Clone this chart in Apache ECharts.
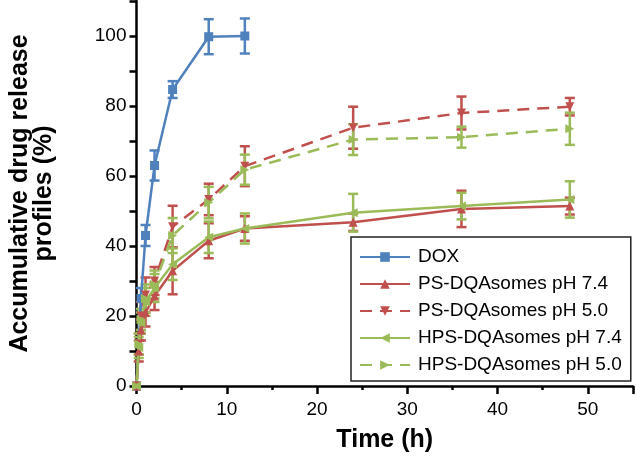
<!DOCTYPE html>
<html><head><meta charset="utf-8">
<script src="https://cdn.jsdelivr.net/npm/echarts@6/dist/echarts.min.js"></script>
<style>html,body{margin:0;padding:0;background:#fff}#c{width:636px;height:458px}</style>
</head><body><div id="c"></div>
<script>
var doxTime = [0, 0.5, 1, 2, 4, 8, 12];
var doxVal  = [0, 25, 43, 63, 84.7, 99.8, 100];
var doxErr  = [0, 3, 3, 4.3, 2.4, 5, 5];

var lipoTime = [0, 0.25, 0.5, 1, 2, 4, 8, 12, 24, 36, 48];
var ps74Val  = [0, 10, 16, 21, 25.7, 32.9, 41.5, 45, 46.8, 50.6, 51.4];
var ps74Err  = [0, 3, 3, 4, 4, 6.7, 5, 3.5, 2.5, 5.2, 2.4];
var ps50Val  = [0, 12, 20, 26, 30, 45.5, 53.3, 62.8, 73.8, 78, 79.8];
var ps50Err  = [0, 3, 4, 5, 4, 6, 4.5, 5.7, 6, 4.7, 2.5];
var hps74Val = [0, 11, 18, 24, 28, 34.8, 42.5, 45, 49.5, 51.4, 53.3];
var hps74Err = [0, 3, 3, 4, 4, 4.5, 4.5, 4.3, 5.4, 3.8, 5.2];
var hps50Val = [0, 12, 19, 25, 29, 43, 52.4, 61.8, 70.4, 71.1, 73.5];
var hps50Err = [0, 3, 3, 4, 4, 5, 4.5, 4.3, 4.4, 3, 4.6];

var seriesNames = ['DOX', 'PS-DQAsomes pH 7.4', 'PS-DQAsomes pH 5.0', 'HPS-DQAsomes pH 7.4', 'HPS-DQAsomes pH 5.0'];
var xTickLabels = ['0', '10', '20', '30', '40', '50'];
var yTickLabels = ['0', '20', '40', '60', '80', '100'];
var BLUE = '#4F81BD', RED = '#C0504D', GREEN = '#9BBB59';

function pairs(t, v) { return t.map(function (x, i) { return [x, v[i]]; }); }
function errData(t, v, e) { return t.map(function (x, i) { return [x, v[i] - e[i], v[i] + e[i]]; }); }

function lineSeries(name, t, v, color, symbol, dashed) {
  return {
    name: name, type: 'line', data: pairs(t, v), symbol: symbol, symbolSize: 9,
    xAxisIndex: 0, yAxisIndex: 0,
    lineStyle: { color: color, width: 2.5, type: dashed ? [12, 8] : 'solid' },
    itemStyle: { color: color }, z: 3
  };
}
function errSeries(name, t, v, e, color) {
  return {
    name: name + ' err', type: 'custom', data: errData(t, v, e), z: 2,
    xAxisIndex: 0, yAxisIndex: 0,
    renderItem: function (params, api) {
      var x = api.value(0), lo = api.value(1), hi = api.value(2);
      if (hi - lo <= 0) return null;
      var p1 = api.coord([x, lo]), p2 = api.coord([x, hi]);
      var w = 5;
      var st = { stroke: color, lineWidth: 2.5 };
      return { type: 'group', children: [
        { type: 'line', shape: { x1: p1[0], y1: p1[1], x2: p2[0], y2: p2[1] }, style: st },
        { type: 'line', shape: { x1: p1[0] - w, y1: p1[1], x2: p1[0] + w, y2: p1[1] }, style: st },
        { type: 'line', shape: { x1: p2[0] - w, y1: p2[1], x2: p2[0] + w, y2: p2[1] }, style: st }
      ]};
    }
  };
}

var chart = echarts.init(document.getElementById('c'), null, { renderer: 'canvas' });
var FF = 'Liberation Sans, Arial, sans-serif';
var axisFont = { fontFamily: FF, fontSize: 19, color: '#000' };
chart.setOption({
  animation: false,
  grid: { left: 111.5, right: 2, top: 1, bottom: 71, containLabel: false },
  xAxis: [{
    type: 'value', min: 0, max: 55, interval: 5,
    name: 'Time (h)', nameLocation: 'middle', nameGap: 42,
    nameTextStyle: { fontFamily: FF, fontSize: 25, fontWeight: 'bold', color: '#000' },
    axisLine: { lineStyle: { color: '#000', width: 2.5 } },
    axisTick: { length: 4, lineStyle: { color: '#000', width: 2.5 } },
    axisLabel: Object.assign({ margin: 14, formatter: function (v) { return xTickLabels.indexOf(String(v)) >= 0 ? String(v) : ''; } }, axisFont),
    splitLine: { show: false }
  }, {
    type: 'value', min: 0, max: 55, interval: 10, position: 'bottom', gridIndex: 0,
    axisLine: { show: false }, axisLabel: { show: false }, splitLine: { show: false },
    axisTick: { length: 8, lineStyle: { color: '#000', width: 2.5 } }
  }],
  yAxis: {
    type: 'value', min: 0, max: 110, interval: 10,
    name: 'Accumulative drug release\nprofiles (%)', nameLocation: 'middle', nameGap: 80, nameRotate: 90,
    nameTextStyle: { fontFamily: FF, fontSize: 25, fontWeight: 'bold', color: '#000', lineHeight: 24 },
    axisLine: { lineStyle: { color: '#000', width: 2.5 } },
    axisTick: { length: 7, lineStyle: { color: '#000', width: 2.5 } },
    axisLabel: Object.assign({ margin: 10, formatter: function (v) { return yTickLabels.indexOf(String(v)) >= 0 ? String(v) : ''; } }, axisFont),
    splitLine: { show: false }
  },
  legend: {
    data: seriesNames, orient: 'vertical', left: 351, top: 237,
    backgroundColor: '#fff', borderColor: '#222', borderWidth: 1.5,
    padding: [10, 9, 6, 8], itemWidth: 50, itemHeight: 12, itemGap: 7,
    textStyle: { fontFamily: FF, fontSize: 19, color: '#000', lineHeight: 20, padding: [0, 0, 0, 3] }
  },
  series: [
    errSeries(seriesNames[0], doxTime, doxVal, doxErr, BLUE),
    errSeries(seriesNames[1], lipoTime, ps74Val, ps74Err, RED),
    errSeries(seriesNames[2], lipoTime, ps50Val, ps50Err, RED),
    errSeries(seriesNames[3], lipoTime, hps74Val, hps74Err, GREEN),
    errSeries(seriesNames[4], lipoTime, hps50Val, hps50Err, GREEN),
    lineSeries(seriesNames[0], doxTime, doxVal, BLUE, 'rect', false),
    lineSeries(seriesNames[1], lipoTime, ps74Val, RED, 'triangle', false),
    lineSeries(seriesNames[2], lipoTime, ps50Val, RED, 'path://M0,0L10,0L5,9Z', true),
    lineSeries(seriesNames[3], lipoTime, hps74Val, GREEN, 'path://M0,5L9,0L9,10Z', false),
    lineSeries(seriesNames[4], lipoTime, hps50Val, GREEN, 'path://M0,0L9,5L0,10Z', true)
  ]
});
</script></body></html>
